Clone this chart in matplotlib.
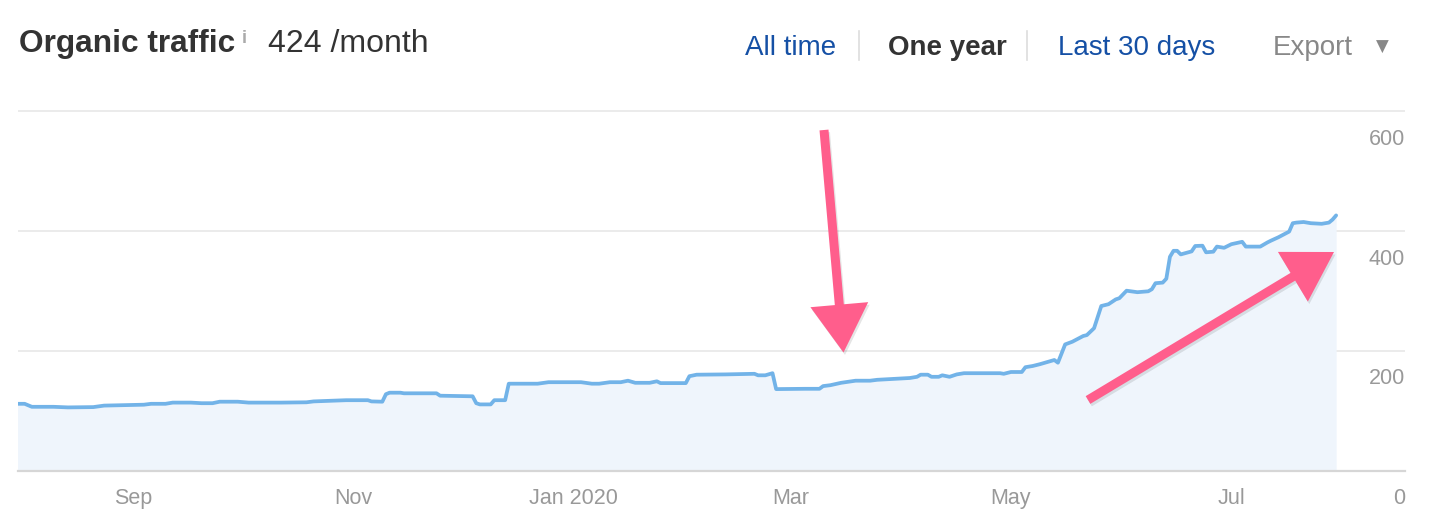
import matplotlib
matplotlib.use("Agg")
import matplotlib.pyplot as plt
import matplotlib.dates as mdates
import matplotlib.transforms as mtransforms
from matplotlib.patches import Polygon
from matplotlib.lines import Line2D
import numpy as np
import pandas as pd

plt.rcParams['font.family'] = ['Liberation Sans', 'DejaVu Sans']

# ---------------- data ----------------
dates = [
    "2019-07-31", "2019-08-02", "2019-08-04", "2019-08-10", "2019-08-14", "2019-08-21", "2019-08-24",
    "2019-09-04", "2019-09-06", "2019-09-10", "2019-09-12", "2019-09-17", "2019-09-20", "2019-09-23", "2019-09-25", "2019-09-30",
    "2019-10-03", "2019-10-12", "2019-10-19", "2019-10-21", "2019-10-30",
    "2019-11-05", "2019-11-06", "2019-11-09", "2019-11-10", "2019-11-11", "2019-11-14", "2019-11-15", "2019-11-24", "2019-11-25",
    "2019-12-04", "2019-12-05", "2019-12-06", "2019-12-09", "2019-12-10", "2019-12-13", "2019-12-14", "2019-12-22", "2019-12-25",
    "2020-01-03", "2020-01-06", "2020-01-08", "2020-01-11", "2020-01-14", "2020-01-16", "2020-01-18", "2020-01-22", "2020-01-24", "2020-01-25",
    "2020-02-01", "2020-02-02", "2020-02-04", "2020-02-12", "2020-02-20", "2020-02-21", "2020-02-23", "2020-02-25", "2020-02-26",
    "2020-03-05", "2020-03-09", "2020-03-10", "2020-03-12", "2020-03-15", "2020-03-19", "2020-03-23", "2020-03-25",
    "2020-04-03", "2020-04-05", "2020-04-06", "2020-04-08", "2020-04-09", "2020-04-11", "2020-04-12", "2020-04-14", "2020-04-16", "2020-04-18", "2020-04-28", "2020-04-29",
    "2020-05-01", "2020-05-04", "2020-05-05", "2020-05-07", "2020-05-09", "2020-05-13", "2020-05-14", "2020-05-16", "2020-05-18", "2020-05-21", "2020-05-22", "2020-05-24", "2020-05-26", "2020-05-28", "2020-05-30", "2020-05-31",
    "2020-06-02", "2020-06-05", "2020-06-08", "2020-06-09", "2020-06-10", "2020-06-12", "2020-06-13", "2020-06-14", "2020-06-15", "2020-06-16", "2020-06-17", "2020-06-20", "2020-06-21", "2020-06-23", "2020-06-24", "2020-06-26", "2020-06-27", "2020-06-29",
    "2020-07-01", "2020-07-04", "2020-07-05", "2020-07-09", "2020-07-11", "2020-07-12", "2020-07-14", "2020-07-17", "2020-07-18", "2020-07-19", "2020-07-21", "2020-07-23", "2020-07-26", "2020-07-28", "2020-07-29", "2020-07-30",
]
traffic = [
    112, 112, 107, 107, 106, 106.5, 109,
    110.5, 112, 112, 114, 114, 113, 113, 115.5, 115.5,
    114, 114, 114.5, 116, 118,
    118, 116, 115.5, 128, 130.5, 130.5, 129.5, 129.5, 125.5,
    124.5, 113, 111, 111, 118, 118, 145.5, 145.5, 148,
    148, 145.5, 145.5, 148, 148, 150.5, 147, 147, 149.5, 146.5,
    146.5, 158, 160.5, 161, 162, 159.5, 159.5, 163, 136.5,
    137, 137, 141.5, 143, 147, 150.5, 150.5, 152,
    155, 157, 160.5, 160.5, 157, 157, 159.5, 157, 161, 163, 163, 162,
    165, 165, 173, 175, 178, 185, 180.5, 211, 215.5, 225, 226.5, 238, 275, 278, 286, 288,
    300.5, 298, 299.5, 303, 313, 314, 320.5, 357, 367, 367, 361, 366, 375, 375.5, 364.5, 365.5, 374, 372,
    378, 382, 374, 374, 381, 384, 389.5, 399, 413, 414, 415, 413, 412, 414, 419, 426,
]
month_ticks = ["2019-09-01", "2019-11-01", "2020-01-01", "2020-03-01", "2020-05-01", "2020-07-01"]
month_labels = ["Sep", "Nov", "Jan 2020", "Mar", "May", "Jul"]
y_ticks = [0, 200, 400, 600]
y_labels = ["0", "200", "400", "600"]

# ---------------- figure ----------------
W, H = 1430, 530
DPI = 100
fig = plt.figure(figsize=(W / DPI, H / DPI), dpi=DPI)
fig.patch.set_facecolor("white")

ax_left, ax_right, ax_bottom, ax_top = 18, 1405, 471, 108
ax = fig.add_axes([ax_left / W, (H - ax_bottom) / H, (ax_right - ax_left) / W, (ax_bottom - ax_top) / H])
ax.set_facecolor("none")

x = pd.to_datetime(dates)
ax.fill_between(x, traffic, 0, color="#eff5fc", lw=0, zorder=1)
ax.plot(x, traffic, color="#72b3e8", lw=2.7, solid_joinstyle="round", solid_capstyle="round", zorder=3)

ax.set_xlim(pd.Timestamp("2019-07-31 04:00"), pd.Timestamp("2020-08-18 01:30"))
ax.set_ylim(0, 605)

for s in ["top", "left", "right"]:
    ax.spines[s].set_visible(False)
ax.spines["bottom"].set_color("#d6d6d6")
ax.spines["bottom"].set_linewidth(1.6)
ax.spines["bottom"].set_zorder(4)

ax.set_yticks(y_ticks)
ax.set_yticklabels([])
ax.tick_params(axis="y", length=0)
ax.grid(axis="y", color="#e6e6e6", lw=1.1, zorder=0)
ax.grid(axis="x", visible=False)
ax.set_axisbelow(True)

ax.set_xticks(pd.to_datetime(month_ticks))
ax.set_xticklabels(month_labels)
ax.tick_params(axis="x", direction="in", length=8.6, width=1.1, color="#cccccc",
               labelsize=15.5, labelcolor="#999999", pad=12)

# y labels drawn inside on the right, below their gridlines
off = mtransforms.ScaledTranslation(0, -33.5 / DPI, fig.dpi_scale_trans)
for v, lab in zip(y_ticks, y_labels):
    ax.text(1.0, v, lab, transform=ax.get_yaxis_transform() + off, ha="right", va="baseline",
            fontsize=15.5, color="#999999", zorder=5)

# ---------------- header ----------------
def ftext(px, py, s, **kw):
    fig.text(px / W, 1 - py / H, s, va="baseline", **kw)

ftext(19, 52, "Organic traffic", fontsize=22.75, fontweight="bold", color="#333333")
ftext(242, 43, "i", fontsize=13, fontweight="bold", color="#aaaaaa")
ftext(268, 52, "424 /month", fontsize=23, color="#333333")

ftext(745, 55, "All time", fontsize=20, color="#1550a5")
ftext(888, 55, "One year", fontsize=20, fontweight="bold", color="#333333")
ftext(1058, 55, "Last 30 days", fontsize=20, color="#1550a5")
ftext(1273, 55, "Export", fontsize=20, color="#888888")
ftext(1382, 52, "\u25BC", fontsize=12, color="#888888", ha="center", family=["DejaVu Sans"])

px_tr = mtransforms.Affine2D().scale(1 / W, -1 / H).translate(0, 1) + fig.transFigure
for sx in (859, 1027):
    fig.add_artist(Line2D([sx, sx], [31, 60], color="#dddddd", lw=1.2, transform=px_tr))

# ---------------- pink arrows ----------------
def arrow_poly(tail, tip, shaft_w, head_w, head_len):
    tail = np.array(tail, float)
    tip = np.array(tip, float)
    d = tip - tail
    L = np.hypot(*d)
    u = d / L
    n = np.array([-u[1], u[0]])
    base = tip - u * head_len
    pts = [tail + n * shaft_w / 2, base + n * shaft_w / 2, base + n * head_w / 2, tip,
           base - n * head_w / 2, base - n * shaft_w / 2, tail - n * shaft_w / 2]
    return np.array(pts)

for tail, tip in [((824, 130), (843.5, 352.5)), ((1088, 400), (1334, 252))]:
    pts = arrow_poly(tail, tip, 9, 58, 48)
    fig.add_artist(Polygon(pts + np.array([1.5, 2.5]), closed=True, color="black", alpha=0.10,
                           lw=0, transform=px_tr, zorder=9))
    fig.add_artist(Polygon(pts, closed=True, color="#ff5e8c", lw=0, transform=px_tr, zorder=10))

fig.savefig("out.png", dpi=DPI, facecolor="white")
